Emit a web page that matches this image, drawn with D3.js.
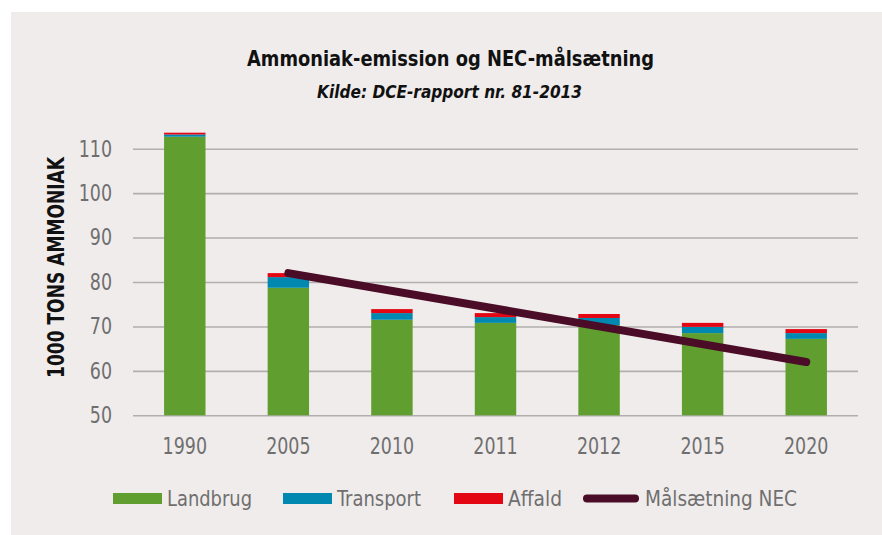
<!DOCTYPE html>
<html>
<head>
<meta charset="utf-8">
<script src="https://cdn.jsdelivr.net/npm/d3@7"></script>
<style>
  body { margin: 0; background: #fff; }
  text { font-family: "DejaVu Sans Condensed", "Liberation Sans Narrow", sans-serif; }
</style>
</head>
<body>
<div id="chart"></div>
<script>
// Chart values
let years = ["1990", "2005", "2010", "2011", "2012", "2015", "2020"];
let landbrug = [112.7, 78.7, 71.5, 70.8, 70.3, 68.5, 67.2];
let transport = [0.5, 2.4, 1.5, 1.3, 1.6, 1.4, 1.3];
let affald = [0.4, 0.9, 0.9, 0.9, 0.9, 0.9, 0.9];
let necYears = ["2005", "2020"];
let necValues = [82, 62];
let yTicks = [50, 60, 70, 80, 90, 100, 110];

let seriesNames = ["Landbrug", "Transport", "Affald"];
let colors = { Landbrug: "#5f9e2f", Transport: "#0088b1", Affald: "#e30613" };
let lineColor = "#4a0c26";

let width = 882, height = 535;
let digitW = 11.1; // condensed digit width in the original

let svg = d3.select("#chart")
  .append("svg")
  .attr("width", width)
  .attr("height", height);

// panel background
svg.append("rect")
  .attr("x", 11).attr("y", 12)
  .attr("width", width - 11).attr("height", height - 12)
  .attr("fill", "#f0ecec");

// scales
let xScale = d3.scaleBand()
  .domain(years)
  .range([133, 858])
  .paddingInner(0.6)
  .paddingOuter(0.3);

let yScale = d3.scaleLinear()
  .domain([50, 110])
  .range([415.3, 148.7]);

// gridlines + y labels
let yAxis = d3.axisLeft(yScale)
  .tickValues(yTicks)
  .tickSize(-(858 - 133))
  .tickPadding(21);

let yg = svg.append("g")
  .attr("transform", "translate(133,0)")
  .call(yAxis);
yg.select(".domain").remove();
yg.selectAll(".tick line")
  .attr("stroke", "#b1aeae")
  .attr("stroke-width", 1.6);
yg.selectAll(".tick text")
  .attr("fill", "#6f6f6f")
  .attr("font-size", 23)
  .attr("font-family", "DejaVu Sans Condensed, sans-serif")
  .attr("textLength", d => String(d).length * digitW)
  .attr("lengthAdjust", "spacingAndGlyphs");

// stacked bars, values are absolute so the bottom layer is clipped at the 50 baseline
let table = years.map((y, i) => ({
  year: y, Landbrug: landbrug[i], Transport: transport[i], Affald: affald[i]
}));
let layers = d3.stack().keys(seriesNames)(table);

svg.append("g")
  .selectAll("g")
  .data(layers)
  .enter()
  .append("g")
  .attr("fill", d => colors[d.key])
  .selectAll("rect")
  .data(d => d)
  .enter()
  .append("rect")
  .attr("x", d => xScale(d.data.year))
  .attr("width", xScale.bandwidth())
  .attr("y", d => yScale(d[1]))
  .attr("height", d => Math.max(0, yScale(Math.max(d[0], 50)) - yScale(d[1])));

// x labels
let xAxis = d3.axisBottom(xScale).tickSize(0).tickPadding(22);
let xg = svg.append("g")
  .attr("transform", "translate(0,415.3)")
  .call(xAxis);
xg.select(".domain").remove();
xg.selectAll(".tick text")
  .attr("fill", "#6f6f6f")
  .attr("font-size", 23)
  .attr("font-family", "DejaVu Sans Condensed, sans-serif")
  .attr("textLength", d => d.length * digitW)
  .attr("lengthAdjust", "spacingAndGlyphs");

// NEC target line
let necData = necYears.map((y, i) => [y, necValues[i]]);
let lineCreator = d3.line()
  .x(d => xScale(d[0]) + xScale.bandwidth() / 2)
  .y(d => yScale(d[1]));

svg.append("path")
  .datum(necData)
  .attr("fill", "none")
  .attr("stroke", lineColor)
  .attr("stroke-width", 8)
  .attr("stroke-linecap", "round")
  .attr("d", lineCreator);

// titles
svg.append("text")
  .attr("x", 450.5).attr("y", 65.5)
  .attr("text-anchor", "middle")
  .attr("font-size", 22)
  .attr("font-weight", "bold")
  .attr("fill", "#111")
  .attr("textLength", 407)
  .attr("lengthAdjust", "spacingAndGlyphs")
  .text("Ammoniak-emission og NEC-målsætning");

svg.append("text")
  .attr("x", 449.5).attr("y", 97.5)
  .attr("text-anchor", "middle")
  .attr("font-size", 17.5)
  .attr("font-weight", "bold")
  .attr("font-style", "italic")
  .attr("fill", "#111")
  .attr("textLength", 265)
  .attr("lengthAdjust", "spacingAndGlyphs")
  .text("Kilde: DCE-rapport nr. 81-2013");

// y axis title
svg.append("text")
  .attr("transform", "translate(64,267.5) rotate(-90)")
  .attr("text-anchor", "middle")
  .attr("font-size", 23)
  .attr("font-weight", "bold")
  .attr("fill", "#111")
  .attr("textLength", 221)
  .attr("lengthAdjust", "spacingAndGlyphs")
  .text("1000 TONS AMMONIAK");

// legend
let legendItems = [
  { name: "Landbrug", x: 113, type: "rect", w: 85 },
  { name: "Transport", x: 283, type: "rect", w: 84 },
  { name: "Affald", x: 454, type: "rect", w: 54 },
  { name: "Målsætning NEC", x: 583, type: "line", w: 152 }
];

let legend = svg.append("g");
legendItems.forEach(item => {
  if (item.type === "rect") {
    legend.append("rect")
      .attr("x", item.x).attr("y", 493)
      .attr("width", 49).attr("height", 11)
      .attr("fill", colors[item.name]);
  } else {
    legend.append("line")
      .attr("x1", item.x + 4).attr("x2", item.x + 52)
      .attr("y1", 498.5).attr("y2", 498.5)
      .attr("stroke", lineColor)
      .attr("stroke-width", 8)
      .attr("stroke-linecap", "round");
  }
  legend.append("text")
    .attr("x", item.x + (item.type === "rect" ? 54 : 62))
    .attr("y", 505.5)
    .attr("font-size", 21)
    .attr("fill", "#6f6f6f")
    .attr("textLength", item.w)
    .attr("lengthAdjust", "spacingAndGlyphs")
    .text(item.name);
});
</script>
</body>
</html>
